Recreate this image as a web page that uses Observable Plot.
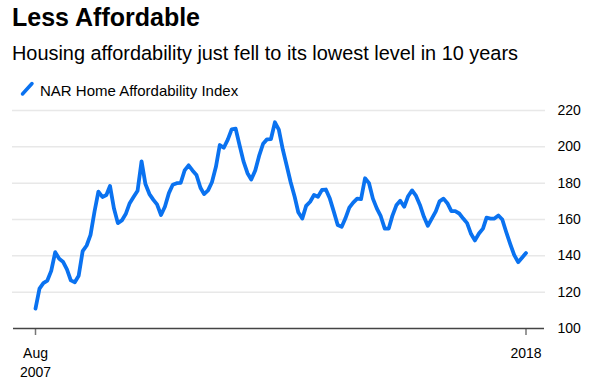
<!DOCTYPE html>
<html>
<head>
<meta charset="utf-8">
<script src="https://cdn.jsdelivr.net/npm/d3@7"></script>
<script src="https://cdn.jsdelivr.net/npm/@observablehq/plot@0.6"></script>
<style>
  html, body { margin:0; padding:0; background:#fff; }
  body { width:596px; height:379px; position:relative; overflow:hidden; font-family:"Liberation Sans", Arial, sans-serif; color:#000; }
  .t { position:absolute; left:12px; line-height:1; white-space:nowrap; }
  #title { top:5.4px; font-size:25px; font-weight:bold; letter-spacing:0px; }
  #subtitle { top:44px; font-size:19.9px; }
  #legend { position:absolute; left:20px; top:81px; height:16px; }
  #legend svg { position:absolute; left:0; top:0; }
  #legend span { position:absolute; left:20px; top:1.8px; font-size:15px; line-height:1; white-space:nowrap; }
  #chart { position:absolute; left:0; top:100px; }
</style>
</head>
<body>
<div class="t" id="title">Less Affordable</div>
<div class="t" id="subtitle">Housing affordability just fell to its lowest level in 10 years</div>
<div id="legend"><svg width="16" height="16"><line x1="2.5" y1="13" x2="12" y2="2.5" stroke="#0a72f0" stroke-width="3.5" stroke-linecap="round"/></svg><span>NAR Home Affordability Index</span></div>
<div id="chart"></div>
<script>
// NAR Home Affordability Index, monthly, Aug 2007 .. Jan 2018
const startYear = 2007, startMonth = 7; // August
const hai = [
  111, 122, 125, 126.4, 131.7, 142, 138.4, 136.8, 132.5, 126.5, 125.5, 129,
  142.6, 145.7, 151.5, 164.4, 175.3, 172.4, 173.5, 178.5, 166, 158, 159.5, 163,
  169, 172.5, 175.8, 192, 179.5, 174, 170.8, 168.3, 162.5, 167, 174.5, 179.1,
  180, 180.2, 187, 189.8, 187, 184.5, 177.5, 174, 176, 180.5, 189, 201,
  199.5, 204, 209.6, 210, 201, 192, 185.5, 182, 187, 195, 201.7, 204.1,
  204.3, 213.5, 209.5, 198.5, 189.7, 180.5, 172.5, 164, 160.5, 167.5, 169.8, 173.5,
  172.5, 176.3, 176.5, 171.5, 164.5, 157, 156, 160.5, 166.5, 169.3, 171.5, 171.2,
  182.7, 180, 171.5, 166, 161.8, 155, 155, 162, 167.8, 170.3, 167, 172.8,
  176, 173, 168, 161.5, 156.5, 160.5, 164.5, 170, 171.5, 169, 164.6, 164.6,
  163.3, 160.5, 158, 152, 148.5, 152.3, 155, 161, 160.5, 160.5, 162.2, 160,
  153, 146.5, 140.5, 136.5, 139, 141.5
];
const yTicks = [100, 120, 140, 160, 180, 200, 220];
const xTickDates = [[2007, 7], [2018, 0]];
const xTickLabels = ["Aug\n2007", "2018"];

const data = hai.map((v, i) => ({ date: new Date(Date.UTC(startYear, startMonth + i, 1)), value: v }));
const xTicks = xTickDates.map(([y, m]) => new Date(Date.UTC(y, m, 1)));

const chart = Plot.plot({
  width: 596,
  height: 279,
  marginTop: 10,
  marginBottom: 51,
  marginLeft: 35,
  marginRight: 70.5,
  x: { type: "utc", domain: [data[0].date, data[data.length - 1].date] },
  y: { domain: [100, 220] },
  style: { fontFamily: "'Liberation Sans', Arial, sans-serif", fontSize: "14px", color: "#000", background: "transparent", overflow: "visible" },
  marks: [
    Plot.ruleY(yTicks.filter(v => v > 100), { stroke: "#e8e8e8", strokeWidth: 1.5, insetLeft: -23, insetRight: -19.5 }),
    Plot.axisY({ anchor: "right", ticks: yTicks, tickSize: 0, tickPadding: 31.5, tickFormat: d => String(d), label: null, fontSize: 14, fill: "#000" }),
    Plot.axisX({ anchor: "bottom", ticks: xTicks, tickSize: 7, tickPadding: 9, stroke: "#777", strokeWidth: 1.5, fill: "#000", fontSize: 14, lineHeight: 1.35,
      tickFormat: d => xTickLabels[xTicks.findIndex(t => +t === +d)], label: null }),
    Plot.ruleY([100], { stroke: "#444", strokeWidth: 1.5, insetLeft: -22, insetRight: -18.5 }),
    Plot.line(data, { x: "date", y: "value", stroke: "#0a72f0", strokeWidth: 3.8, strokeLinejoin: "round", strokeLinecap: "round" })
  ]
});
document.getElementById("chart").appendChild(chart);
</script>
</body>
</html>
